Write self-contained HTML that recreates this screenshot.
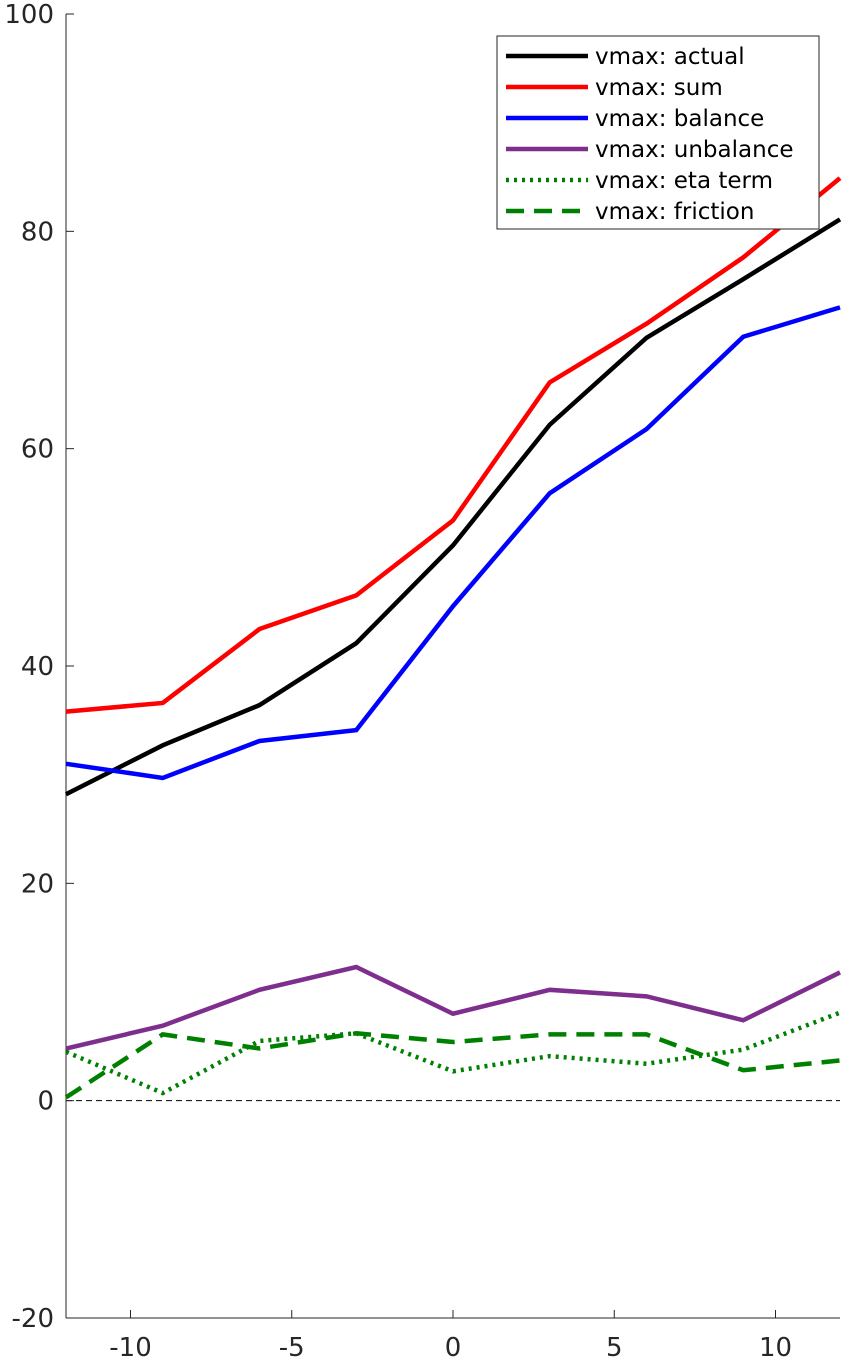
<!DOCTYPE html>
<html><head><meta charset="utf-8"><style>
body{margin:0;background:#fff}
svg{display:block;font-family:"DejaVu Sans","Liberation Sans",sans-serif}
</style></head><body>
<svg id="chart" width="846" height="1361" viewBox="0 0 846 1361" xmlns="http://www.w3.org/2000/svg">
<g id="axes"></g>
<g id="series"></g>
<g id="legend"></g>
</svg>
<script>
const xValues=[-12,-9,-6,-3,0,3,6,9,12];
const actual=[28.2,32.7,36.4,42.1,51.1,62.2,70.2,75.6,81.1];
const sum=[35.8,36.6,43.4,46.5,53.4,66.1,71.5,77.6,84.9];
const balance=[31.0,29.7,33.1,34.1,45.5,55.9,61.8,70.3,73.0];
const unbalance=[4.8,6.9,10.2,12.3,8.0,10.2,9.6,7.4,11.8];
const etaTerm=[4.5,0.7,5.5,6.2,2.7,4.1,3.4,4.7,8.1];
const friction=[0.3,6.1,4.8,6.2,5.4,6.1,6.1,2.8,3.7];
const xTicks=[-10,-5,0,5,10];
const yTicks=[-20,0,20,40,60,80,100];
const seriesNames=["vmax: actual","vmax: sum","vmax: balance","vmax: unbalance","vmax: eta term","vmax: friction"];

const NS="http://www.w3.org/2000/svg";
const L=66,R=840,T=14,B=1318;
const X=v=>L+(v+12)/24*(R-L);
const Y=v=>B-(v+20)/120*(B-T);
function mk(tag,attrs,parent){const e=document.createElementNS(NS,tag);for(const k in attrs)e.setAttribute(k,attrs[k]);parent.appendChild(e);return e;}
const axes=document.getElementById('axes'),ser=document.getElementById('series'),leg=document.getElementById('legend');

let zl=mk('line',{x1:L,x2:R,y1:Y(0),y2:Y(0),stroke:'#000','stroke-width':1,'stroke-dasharray':'6,4'},axes);


let ya=mk('line',{x1:L,x2:L,y1:T,y2:B,stroke:'#262626','stroke-width':1},axes);


let xa=mk('line',{x1:L,x2:R,y1:B,y2:B,stroke:'#262626','stroke-width':1},axes);


yTicks.forEach(v=>{
  let t=mk('line',{x1:L,x2:L+8,y1:Y(v),y2:Y(v),stroke:'#262626'},axes);
  
  
  let s=mk('text',{x:L-12,y:Y(v)+9,'text-anchor':'end','font-size':26,fill:'#262626'},axes);
  s.textContent=v;
  
  
});
xTicks.forEach(v=>{
  let t=mk('line',{x1:X(v),x2:X(v),y1:B,y2:B-8,stroke:'#262626'},axes);
  
  
  let s=mk('text',{x:X(v),y:B+38,'text-anchor':'middle','font-size':26,fill:'#262626'},axes);
  s.textContent=v;
  
  
});
const data=[actual,sum,balance,unbalance,etaTerm,friction];
const colors=['#000','#ff0000','#0000ff','#7e2f8e','#008000','#008000'];
const dashes=['','','','','3,5','18,10'];
const ids=['line-actual','line-sum','line-balance','line-unbalance','line-eta-term','line-friction'];
data.forEach((d,i)=>{
  const pts=d.map((v,j)=>X(xValues[j])+','+Y(v)).join(' ');
  let p=mk('polyline',{points:pts,fill:'none',stroke:colors[i],'stroke-width':4.5,'stroke-dasharray':dashes[i]},ser);
  
  
});
let box=mk('rect',{x:497,y:36,width:322,height:193,fill:'#fff',stroke:'#262626','stroke-width':1},leg);


seriesNames.forEach((n,i)=>{
  const y=56+i*31;
  let l=mk('line',{x1:506,x2:588,y1:y,y2:y,stroke:colors[i],'stroke-width':4.5,'stroke-dasharray':dashes[i]},leg);
  
  
  let t=mk('text',{x:595,y:y+8,'font-size':23,fill:'#000'},leg);
  t.textContent=n;
  
  
});
</script>
</body></html>
